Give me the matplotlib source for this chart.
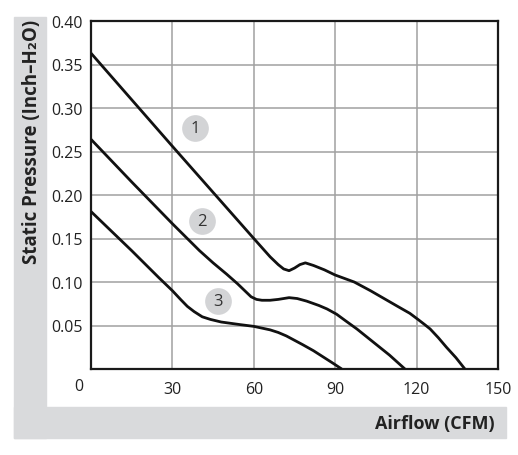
import matplotlib
matplotlib.use('Agg')
from matplotlib import pyplot as plt
from matplotlib.patches import Rectangle

plt.rcParams['font.family'] = ['Open Sans', 'DejaVu Sans']

# fan curves (airflow CFM, static pressure inch-H2O)
flow1 = [0, 30, 60, 66, 69, 71, 73, 75, 77, 79, 82, 86, 90, 97, 103, 108, 113, 117.5, 120.5, 123, 125, 128, 131, 134.5, 137.8]
pres1 = [0.363, 0.256, 0.150, 0.129, 0.120, 0.115, 0.113, 0.116, 0.120, 0.122, 0.119, 0.114, 0.108, 0.100, 0.090, 0.081, 0.072, 0.064, 0.057, 0.051, 0.046, 0.036, 0.025, 0.013, 0.0]
flow2 = [0, 15, 30, 40, 45, 50, 54, 57, 59, 61, 63, 66, 69, 73, 76, 79.5, 84, 87, 90.5, 94, 98, 104, 110, 115.7]
pres2 = [0.264, 0.215, 0.167, 0.136, 0.122, 0.109, 0.098, 0.089, 0.083, 0.080, 0.079, 0.079, 0.080, 0.082, 0.081, 0.078, 0.073, 0.069, 0.063, 0.055, 0.046, 0.031, 0.016, 0.0]
flow3 = [0, 15, 25, 30, 33, 35.5, 38, 41, 44, 48, 55, 60, 63, 66, 69, 72, 75, 78, 82, 86, 89, 92.4]
pres3 = [0.181, 0.136, 0.105, 0.090, 0.080, 0.072, 0.066, 0.060, 0.057, 0.054, 0.051, 0.049, 0.047, 0.045, 0.042, 0.038, 0.033, 0.028, 0.021, 0.013, 0.007, 0.0]

tag_names = ['1', '2', '3']
tag_x = [38.3, 40.8, 46.9]
tag_y = [0.277, 0.170, 0.078]

xticks = [30, 60, 90, 120, 150]
yticks = [0.05, 0.10, 0.15, 0.20, 0.25, 0.30, 0.35, 0.40]

W, H = 518, 456
fig = plt.figure(figsize=(W/100, H/100), dpi=100)

# grey L-shaped band behind the axis titles
grey = '#d9dadc'
fig.patches.append(Rectangle((14/W, 17/H), 32/W, 421/H, transform=fig.transFigure, color=grey, zorder=0))
fig.patches.append(Rectangle((14/W, 17/H), 492/W, 31/H, transform=fig.transFigure, color=grey, zorder=0))

ax = fig.add_axes([91/W, 86/H, 407/W, 348/H])
ax.set_xlim(0, 150)
ax.set_ylim(0, 0.40)
ax.set_xticks(xticks)
ax.set_yticks(yticks)
ax.set_yticklabels(['%.2f' % v for v in yticks])
ax.tick_params(length=0, labelsize=11.5, colors='#222222')
ax.tick_params(axis='x', pad=9)
ax.tick_params(axis='y', pad=6)
ax.grid(True, color='#a0a0a0', linewidth=1.1)
ax.set_axisbelow(True)
for s in ax.spines.values():
    s.set_linewidth(1.6)
    s.set_color('#1a1a1a')

for fx, py in [(flow1, pres1), (flow2, pres2), (flow3, pres3)]:
    ax.plot(fx, py, color='#111111', lw=2.0, solid_capstyle='butt', zorder=3)

ax.scatter(tag_x, tag_y, s=370, color='#d3d4d6', zorder=4, linewidths=0)
for t, x, y in zip(tag_names, tag_x, tag_y):
    ax.text(x, y, t, ha='center', va='center', fontsize=12, color='#333333', zorder=5)

# the lone "0" sits left of the corner
fig.text(79/W, (H-387)/H, '0', fontsize=11.5, color='#222222', ha='center', va='center')

fig.text(32/W, (H-141.5)/H, 'Static Pressure (Inch–H₂O)', rotation=90, ha='center', va='center',
         fontsize=13.5, fontweight='bold', color='#222222')
fig.text(495/W, (H-424)/H, 'Airflow (CFM)', ha='right', va='center',
         fontsize=13, fontweight='bold', color='#222222')

fig.savefig('out.png', dpi=100)
